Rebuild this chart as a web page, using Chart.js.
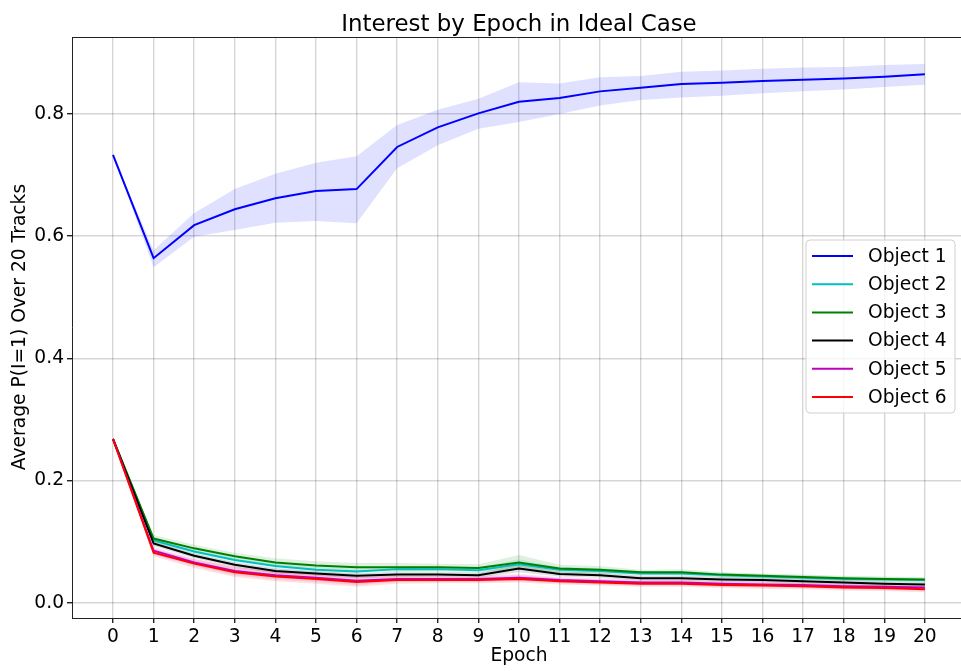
<!DOCTYPE html>
<html>
<head>
<meta charset="utf-8">
<script src="https://cdn.jsdelivr.net/npm/chart.js@4/dist/chart.umd.min.js"></script>
<style>
  html, body { margin: 0; padding: 0; background: #fff; }
  #wrap { width: 961px; height: 671px; }
</style>
</head>
<body>
<div id="wrap"><canvas id="c" width="961" height="671"></canvas></div>
<script>
// Epochs on the x axis
const epochs = [0, 1, 2, 3, 4, 5, 6, 7, 8, 9, 10, 11, 12, 13, 14, 15, 16, 17, 18, 19, 20];
const xTicks = [0, 1, 2, 3, 4, 5, 6, 7, 8, 9, 10, 11, 12, 13, 14, 15, 16, 17, 18, 19, 20];
const yTicks = [0.0, 0.2, 0.4, 0.6, 0.8];

const seriesNames = ['Object 1', 'Object 2', 'Object 3', 'Object 4', 'Object 5', 'Object 6'];
const seriesColors = ['#0000ff', '#00bfbf', '#008000', '#000000', '#bf00bf', '#ff0000'];

// Mean P(I=1) per epoch
const object1 = [0.733, 0.564, 0.618, 0.644, 0.662, 0.674, 0.677, 0.746, 0.778, 0.801, 0.820, 0.826, 0.837, 0.843, 0.849, 0.851, 0.854, 0.856, 0.858, 0.861, 0.865];
const object2 = [0.268, 0.102, 0.084, 0.070, 0.060, 0.054, 0.051, 0.055, 0.055, 0.053, 0.063, 0.054, 0.052, 0.048, 0.048, 0.045, 0.043, 0.041, 0.039, 0.038, 0.037];
const object3 = [0.268, 0.105, 0.089, 0.076, 0.066, 0.061, 0.058, 0.058, 0.058, 0.057, 0.066, 0.056, 0.054, 0.050, 0.050, 0.046, 0.044, 0.042, 0.040, 0.039, 0.038];
const object4 = [0.268, 0.097, 0.077, 0.062, 0.052, 0.048, 0.044, 0.046, 0.046, 0.045, 0.056, 0.047, 0.045, 0.040, 0.040, 0.038, 0.037, 0.035, 0.033, 0.031, 0.030];
const object5 = [0.268, 0.085, 0.066, 0.052, 0.045, 0.041, 0.036, 0.039, 0.039, 0.039, 0.041, 0.037, 0.035, 0.033, 0.033, 0.031, 0.030, 0.029, 0.027, 0.026, 0.025];
const object6 = [0.268, 0.082, 0.064, 0.050, 0.043, 0.039, 0.034, 0.037, 0.037, 0.037, 0.039, 0.035, 0.033, 0.031, 0.031, 0.029, 0.028, 0.027, 0.025, 0.024, 0.022];

// Spread band around each mean (upper / lower bounds)
const object1Upper = [0.733, 0.577, 0.638, 0.677, 0.702, 0.720, 0.731, 0.782, 0.807, 0.825, 0.852, 0.850, 0.860, 0.862, 0.869, 0.871, 0.874, 0.876, 0.877, 0.880, 0.882];
const object1Lower = [0.733, 0.549, 0.599, 0.610, 0.622, 0.625, 0.621, 0.711, 0.749, 0.776, 0.787, 0.800, 0.814, 0.823, 0.827, 0.830, 0.834, 0.837, 0.840, 0.844, 0.848];
const object2Spread = [0.000, 0.005, 0.005, 0.005, 0.005, 0.005, 0.005, 0.005, 0.005, 0.005, 0.008, 0.005, 0.005, 0.004, 0.004, 0.004, 0.004, 0.004, 0.004, 0.004, 0.004];
const object3Spread = [0.000, 0.006, 0.006, 0.006, 0.007, 0.007, 0.007, 0.007, 0.006, 0.006, 0.012, 0.006, 0.006, 0.004, 0.005, 0.004, 0.004, 0.004, 0.004, 0.004, 0.004];
const object4Spread = [0.000, 0.004, 0.004, 0.004, 0.004, 0.004, 0.004, 0.004, 0.004, 0.004, 0.006, 0.004, 0.004, 0.004, 0.004, 0.004, 0.004, 0.004, 0.004, 0.004, 0.004];
const object5Spread = [0.000, 0.006, 0.006, 0.007, 0.007, 0.007, 0.007, 0.005, 0.005, 0.005, 0.006, 0.005, 0.005, 0.005, 0.005, 0.005, 0.005, 0.005, 0.005, 0.005, 0.005];
const object6Spread = [0.000, 0.006, 0.007, 0.008, 0.008, 0.008, 0.008, 0.006, 0.005, 0.005, 0.006, 0.005, 0.005, 0.005, 0.005, 0.005, 0.005, 0.005, 0.005, 0.005, 0.005];

const means = [object1, object2, object3, object4, object5, object6];
const spreads = [null, object2Spread, object3Spread, object4Spread, object5Spread, object6Spread];

function rgba(hex, a) {
  const n = parseInt(hex.slice(1), 16);
  return `rgba(${(n >> 16) & 255},${(n >> 8) & 255},${n & 255},${a})`;
}
const pts = (arr) => arr.map((v, i) => ({ x: epochs[i], y: v }));

const datasets = [];
means.forEach((m, k) => {
  let up, lo;
  if (k === 0) { up = object1Upper; lo = object1Lower; }
  else { up = m.map((v, i) => v + spreads[k][i]); lo = m.map((v, i) => v - spreads[k][i]); }
  // band: upper edge filled down to the following (lower edge) dataset
  datasets.push({
    label: '_band_up', data: pts(up), borderWidth: 0, borderColor: 'rgba(0,0,0,0)',
    backgroundColor: rgba(seriesColors[k], 0.12), fill: '+1', pointRadius: 0, order: 200 - k
  });
  datasets.push({
    label: '_band_lo', data: pts(lo), borderWidth: 0, borderColor: 'rgba(0,0,0,0)',
    fill: false, pointRadius: 0, order: 200 - k
  });
});
means.forEach((m, k) => {
  datasets.push({
    label: seriesNames[k], data: pts(m), borderColor: seriesColors[k], backgroundColor: seriesColors[k],
    borderWidth: 2, fill: false, pointRadius: 0, order: 100 - k
  });
});

const FONT = 'DejaVu Sans';

// title, axis titles, top frame line and legend
const decorations = {
  id: 'decorations',
  afterDraw(chart) {
    const ctx = chart.ctx;
    const a = chart.chartArea;
    ctx.save();
    // top spine
    ctx.strokeStyle = '#222';
    ctx.lineWidth = 1;
    ctx.beginPath();
    ctx.moveTo(a.left, a.top + 0.5);
    ctx.lineTo(a.right, a.top + 0.5);
    ctx.stroke();

    ctx.fillStyle = '#000';
    ctx.textAlign = 'center';
    ctx.textBaseline = 'alphabetic';
    ctx.font = `22.9px "${FONT}"`;
    ctx.fillText('Interest by Epoch in Ideal Case', 519, 31);

    ctx.font = `18.67px "${FONT}"`;
    ctx.textBaseline = 'middle';
    ctx.fillText('Epoch', 519, 656);
    ctx.save();
    ctx.translate(20, 327);
    ctx.rotate(-Math.PI / 2);
    ctx.fillText('Average P(I=1) Over 20 Tracks', 0, 0);
    ctx.restore();

    // legend
    const lines = chart.data.datasets.filter(d => !d.label.startsWith('_'));
    const bx = 806, by = 240, bw = 149, bh = 173, r = 4;
    ctx.beginPath();
    ctx.moveTo(bx + r, by);
    ctx.arcTo(bx + bw, by, bx + bw, by + bh, r);
    ctx.arcTo(bx + bw, by + bh, bx, by + bh, r);
    ctx.arcTo(bx, by + bh, bx, by, r);
    ctx.arcTo(bx, by, bx + bw, by, r);
    ctx.closePath();
    ctx.fillStyle = 'rgba(255,255,255,0.8)';
    ctx.fill();
    ctx.strokeStyle = '#d0d0d0';
    ctx.lineWidth = 1;
    ctx.stroke();

    ctx.textAlign = 'left';
    lines.forEach((d, i) => {
      const y = 256 + i * 28.2;
      ctx.strokeStyle = d.borderColor;
      ctx.lineWidth = 2;
      ctx.beginPath();
      ctx.moveTo(812, y);
      ctx.lineTo(853, y);
      ctx.stroke();
      ctx.fillStyle = '#000';
      ctx.fillText(d.label, 868, y + 1);
    });
    ctx.restore();
  }
};

const gridStyle = { color: 'rgba(0,0,0,0.16)', lineWidth: 1.4, tickLength: 5, tickColor: '#222', drawTicks: true };

new Chart(document.getElementById('c'), {
  type: 'line',
  data: { datasets },
  plugins: [decorations],
  options: {
    responsive: false,
    devicePixelRatio: 1,
    animation: false,
    layout: { padding: { left: 0, top: 37, right: 0, bottom: 0 } },
    plugins: {
      legend: { display: false },
      title: { display: false },
      tooltip: { enabled: false },
      filler: { propagate: false }
    },
    elements: { line: { tension: 0 } },
    scales: {
      x: {
        type: 'linear',
        min: -1.01,
        max: 20.89,
        afterBuildTicks: (s) => { s.ticks = xTicks.map(v => ({ value: v })); },
        afterFit: (s) => { s.height = 53; },
        ticks: {
          autoSkip: false, maxRotation: 0, padding: 3, color: '#000',
          font: { family: FONT, size: 18.67 },
          callback: (v) => String(v)
        },
        grid: gridStyle,
        border: { display: true, color: '#222', width: 1 }
      },
      y: {
        type: 'linear',
        min: -0.025,
        max: 0.926,
        afterBuildTicks: (s) => { s.ticks = yTicks.map(v => ({ value: v })); },
        afterFit: (s) => { s.width = 72; },
        ticks: {
          padding: 3, color: '#000',
          font: { family: FONT, size: 18.67 },
          callback: (v) => Number(v).toFixed(1)
        },
        grid: gridStyle,
        border: { display: true, color: '#222', width: 1 }
      }
    }
  }
});
</script>
</body>
</html>
